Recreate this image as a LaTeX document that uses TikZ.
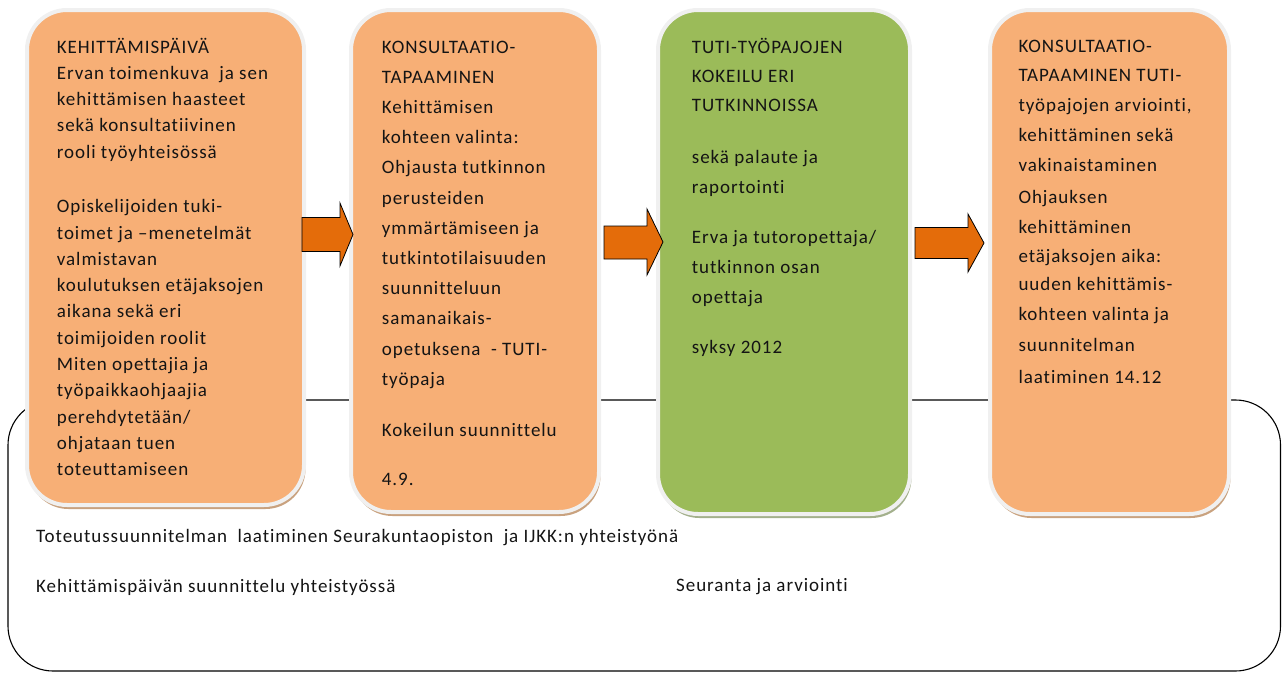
\documentclass[tikz,border=0pt]{standalone}
\usepackage{fontspec}
\setmainfont{Carlito}[Ligatures={NoCommon}, LetterSpace=5]
\usetikzlibrary{shadows}
\definecolor{boxorange}{HTML}{F7AF76}
\definecolor{boxgreen}{HTML}{9BBB59}
\definecolor{arroworange}{HTML}{E46C0A}
\definecolor{rimgray}{HTML}{F0F0F0}
\definecolor{shadeorange}{HTML}{C9A27F}
\definecolor{shadegreen}{HTML}{A3B08C}
\begin{document}
\begin{tikzpicture}[x=1pt,y=-1pt,
  stage/.style={draw=rimgray, line width=4pt, rounded corners=40pt, anchor=north west,
    inner sep=0pt, outer sep=0pt},
  orangestage/.style={stage, fill=boxorange,
    drop shadow={shadow xshift=1.5pt, shadow yshift=-4pt, fill=shadeorange, opacity=1}},
  greenstage/.style={stage, fill=boxgreen,
    drop shadow={shadow xshift=1.5pt, shadow yshift=-4pt, fill=shadegreen, opacity=1}},
  frame/.style={draw=black, line width=1.1pt, rounded corners=45pt, anchor=north west,
    inner sep=0pt, outer sep=0pt},
  blockarrow/.style={draw=black, line width=0.8pt, fill=arroworange, line join=miter},
  txt/.style={font=\fontsize{19}{22}\selectfont, anchor=base west, inner sep=0pt, text=black!92}
]
\useasboundingbox (0,0) rectangle (1282,672);

% background frame
\node[frame, minimum width=1272.5pt, minimum height=271pt] (frame) at (8,400) {};

% stages
\node[orangestage, minimum width=277pt, minimum height=495pt] (b1) at (27,10) {};
\node[orangestage, minimum width=248pt, minimum height=502pt] (b2) at (351,10) {};
\node[greenstage,  minimum width=252pt, minimum height=504pt] (b3) at (658,10) {};
\node[orangestage, minimum width=239pt, minimum height=504pt] (b4) at (990,10) {};

% block arrows
\draw[blockarrow] (302,217.5) -- (340,217.5) -- (340,203) -- (353,234.5) -- (340,266) -- (340,251.5) -- (302,251.5) -- cycle;
\draw[blockarrow] (604,226) -- (647,226) -- (647,209) -- (663,242) -- (647,275) -- (647,259) -- (604,259) -- cycle;
\draw[blockarrow] (915,227.5) -- (968,227.5) -- (968,214) -- (984,243) -- (968,272) -- (968,258.5) -- (915,258.5) -- cycle;

% texts box 1
\foreach \y/\t [count=\i] in {
  53.3/KEHITTÄMISPÄIVÄ,
  79.3/{Ervan toimenkuva\ \ ja sen},
  105.6/kehittämisen haasteet,
  131.9/sekä konsultatiivinen,
  158.2/rooli työyhteisössä,
  212.7/Opiskelijoiden tuki-,
  239/toimet ja –menetelmät,
  265.3/valmistavan,
  291.6/koulutuksen etäjaksojen,
  317.9/aikana sekä eri,
  344.2/toimijoiden roolit,
  370.5/Miten opettajia ja,
  396.8/työpaikkaohjaajia,
  423.1/{perehdytetään/},
  449.4/ohjataan tuen,
  475.7/toteuttamiseen}
  \node[txt] (ta\i) at (56.7,\y) {\t};

% texts box 2
\foreach \y/\t [count=\i] in {
  53/KONSULTAATIO-,
  83.2/TAPAAMINEN,
  113.4/Kehittämisen,
  143.6/kohteen valinta:,
  173.8/Ohjausta tutkinnon,
  204/perusteiden,
  234.2/ymmärtämiseen ja,
  264.4/tutkintotilaisuuden,
  294.6/suunnitteluun,
  324.8/samanaikais-,
  355/{opetuksena\ \ - TUTI-},
  385.2/työpaja,
  436.7/Kokeilun suunnittelu,
  485.7/4.9.}
  \node[txt] (tb\i) at (381.7,\y) {\t};

% texts box 3
\foreach \y/\t [count=\i] in {
  53.3/TUTI-TYÖPAJOJEN,
  82.7/KOKEILU ERI,
  111.7/TUTKINNOISSA,
  163.3/sekä palaute ja,
  193.3/raportointi,
  243.5/{Erva ja tutoropettaja/},
  273.5/tutkinnon osan,
  303.5/opettaja,
  353.5/syksy 2012}
  \node[txt] (tc\i) at (691.7,\y) {\t};

% texts box 4
\foreach \y/\t [count=\i] in {
  52.7/KONSULTAATIO-,
  81.7/TAPAAMINEN TUTI-,
  111.5/{työpajojen arviointi,},
  141.5/kehittäminen sekä,
  171.5/vakinaistaminen,
  203/Ohjauksen,
  233/kehittäminen,
  262/etäjaksojen aika:,
  290.5/uuden kehittämis-,
  320.5/kohteen valinta ja,
  351/suunnitelman,
  383/laatiminen 14.12}
  \node[txt] (td\i) at (1018.3,\y) {\t};

% bottom texts
\node[txt] (bt1) at (36,542.3) {Toteutussuunnitelman\ \ laatiminen Seurakuntaopiston\ \ ja IJKK:n yhteistyönä};
\node[txt] (bt2) at (36,592) {Kehittämispäivän suunnittelu yhteistyössä};
\node[txt] (bt3) at (676,591.7) {Seuranta ja arviointi};
\end{tikzpicture}
\end{document}
